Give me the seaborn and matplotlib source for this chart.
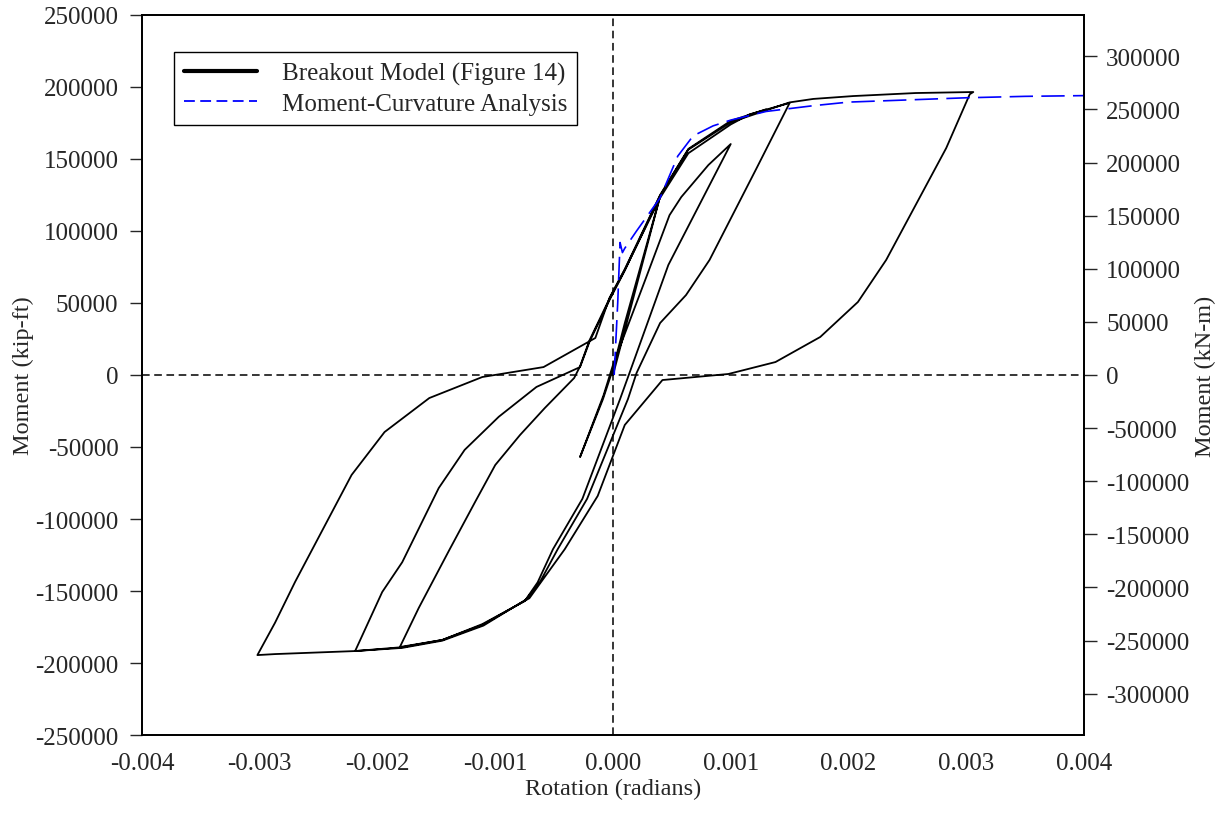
import numpy as np
import pandas as pd
import matplotlib
matplotlib.use("Agg")
import matplotlib.pyplot as plt
from matplotlib.lines import Line2D
import seaborn as sns

# Breakout model (Figure 14) - hysteresis branches, rotation (rad) / moment (kip-ft)
rot_c0 = [0.0, 0.0002, 0.0004, 0.0001, 0.0, -0.000085, -0.00028]
mom_c0 = [0, 62000, 124000, 36000, 4200, -16700, -57000]

rot_b_up = [-0.00028, -0.00008, 0.0, 0.00028, 0.00048, 0.00058, 0.00081, 0.001]
mom_b_up = [-57000, -14000, 7000, 67400, 111000, 123600, 145800, 160400]

rot_b_dn = [0.001, 0.00047, 0.00014, 0.00006, -0.00026, -0.00051, -0.00064, -0.00075,
            -0.00111, -0.00145, -0.00181]
mom_b_dn = [160400, 76400, 1400, -16700, -86000, -121000, -144000, -157000,
            -173000, -184000, -188900]

rot_c1_up = [-0.00181, -0.00165, -0.00139, -0.00117, -0.001, -0.00079, -0.00058, -0.00033,
             -0.00028, -0.0002, -0.00003, 0.0001, 0.0004, 0.00064, 0.001, 0.00116, 0.0015]
mom_c1_up = [-188900, -161800, -121500, -88000, -62500, -41700, -23000, -2100,
             6000, 24000, 53000, 73000, 123000, 154000, 174000, 181000, 188900]

rot_c2_dn = [0.0015, 0.00122, 0.00082, 0.00062, 0.0004, 0.0002, 0.000127, -0.00022, -0.00047,
             -0.00062, -0.00074, -0.0011, -0.00145, -0.00179, -0.00219]
mom_c2_dn = [188900, 143700, 79900, 55500, 36100, 1400, -16700, -86000, -121000,
             -143700, -156000, -174000, -184500, -189500, -191700]

rot_c2_up = [-0.00219, -0.00196, -0.00179, -0.00148, -0.00126, -0.00097, -0.00065, -0.00028,
             -0.0002, -0.00003, 0.0001, 0.0004, 0.00064, 0.001, 0.0015, 0.0017, 0.00204,
             0.00257, 0.00306, 0.00303]
mom_c2_up = [-191700, -150700, -130000, -78500, -52000, -29000, -8300, 5500,
             23000, 52000, 72500, 124500, 156500, 175500, 189300, 191700, 193700,
             195800, 196500, 195000]

rot_c3_dn = [0.00303, 0.00283, 0.00232, 0.00208, 0.00176, 0.00138, 0.00098, 0.00042, 0.0001,
             -0.00013, -0.00041, -0.00071, -0.00111, -0.00145, -0.00179, -0.00219, -0.00287,
             -0.00302]
mom_c3_dn = [195000, 157600, 79900, 50700, 26400, 9000, 700, -3500, -34700,
             -84000, -121000, -155000, -173600, -184000, -189000, -191700, -193800,
             -194500]

rot_c3_up = [-0.00302, -0.00287, -0.0027, -0.00222, -0.00194, -0.00156, -0.00111, -0.00059,
             -0.00015, -0.00003, 0.0001, 0.0004, 0.00064, 0.001, 0.0013]
mom_c3_up = [-194500, -172000, -143700, -69400, -39600, -16000, -1400, 5500,
             25700, 53500, 73500, 125000, 157000, 176500, 184500]

# Moment-curvature analysis
rot_mc = [0.00001, 0.00004, 0.00006, 0.00008, 0.0001, 0.0002, 0.0004, 0.00055, 0.00068,
          0.00085, 0.001, 0.0013, 0.0017, 0.002, 0.0025, 0.003, 0.0035, 0.004]
mom_mc = [0, 50000, 92000, 85000, 88000, 100000, 123000, 152000, 166000,
          173000, 177000, 183000, 187000, 189500, 191000, 192500, 193500, 194000]

branches = [(rot_c0, mom_c0), (rot_b_up, mom_b_up), (rot_b_dn, mom_b_dn),
            (rot_c1_up, mom_c1_up), (rot_c2_dn, mom_c2_dn), (rot_c2_up, mom_c2_up),
            (rot_c3_dn, mom_c3_dn), (rot_c3_up, mom_c3_up)]
df_bo = pd.concat([pd.DataFrame({"rot": r, "mom": m}) for r, m in branches],
                  ignore_index=True)
df_mc = pd.DataFrame({"rot": rot_mc, "mom": mom_mc})

sns.set_style("white")
plt.rcParams["font.family"] = ["Liberation Serif", "DejaVu Serif"]
fs_tick = 18
fs_lab = 17.5

fig, ax = plt.subplots(figsize=(12.21, 8.28), dpi=100)
fig.subplots_adjust(left=0.1163, right=0.8878, top=0.9807, bottom=0.1111)

ax.axhline(0, color="black", lw=1.1, ls=(0, (5, 3)), zorder=1)
ax.axvline(0, color="black", lw=1.1, ls=(0, (5, 3)), zorder=1)

sns.lineplot(data=df_bo, x="rot", y="mom", sort=False, estimator=None,
             color="black", lw=1.3, ax=ax, zorder=3)
sns.lineplot(data=df_mc, x="rot", y="mom", sort=False, estimator=None,
             color="#0000ff", lw=1.2, ls=(0, (14, 5)), ax=ax, zorder=4)

xt = np.arange(-0.004, 0.0041, 0.001)
yt = np.arange(-250000, 250001, 50000)
ax.set_xlim(-0.004, 0.004)
ax.set_ylim(-250000, 250000)
ax.set_xticks(xt)
ax.set_xticklabels([f"{v:.3f}" for v in xt])
ax.set_yticks(yt)
ax.set_yticklabels([f"{int(v)}" for v in yt])
ax.set_xlabel("Rotation (radians)", fontsize=fs_lab, labelpad=3)
ax.set_ylabel("Moment (kip-ft)", fontsize=fs_lab, labelpad=1)
ax.tick_params(axis="y", direction="out", length=9, width=1, labelsize=fs_tick, left=True, pad=8)
ax.tick_params(axis="x", direction="out", length=0, labelsize=fs_tick, bottom=True, pad=12)
for s in ax.spines.values():
    s.set_color("black")
    s.set_linewidth(1.3)

ax2 = ax.twinx()
k = 1.35582
yt2 = np.arange(-300000, 300001, 50000)
ax2.set_ylim(-250000 * k, 250000 * k)
ax2.set_yticks(yt2)
ax2.set_yticklabels([f"{int(v)}" for v in yt2])
ax2.set_ylabel("Moment (kN-m)", fontsize=fs_lab, labelpad=4)
ax2.tick_params(axis="y", direction="out", length=9, width=1, labelsize=fs_tick, right=True, pad=7)
for s in ax2.spines.values():
    s.set_color("black")
    s.set_linewidth(1.3)

handles = [Line2D([], [], color="black", lw=3),
           Line2D([], [], color="#0000ff", lw=1.3, ls=(0, (6, 3)))]
leg = ax.legend(handles, ["Breakout Model (Figure 14)", "Moment-Curvature Analysis"],
                loc="upper left", bbox_to_anchor=(0.034, 0.9486), borderaxespad=0,
                fancybox=False, edgecolor="black", framealpha=1, fontsize=18,
                handlelength=2.9, handletextpad=1.0, labelspacing=0.3,
                borderpad=0.4)
leg.get_frame().set_linewidth(1.0)

plt.savefig("out.png", dpi=100)
